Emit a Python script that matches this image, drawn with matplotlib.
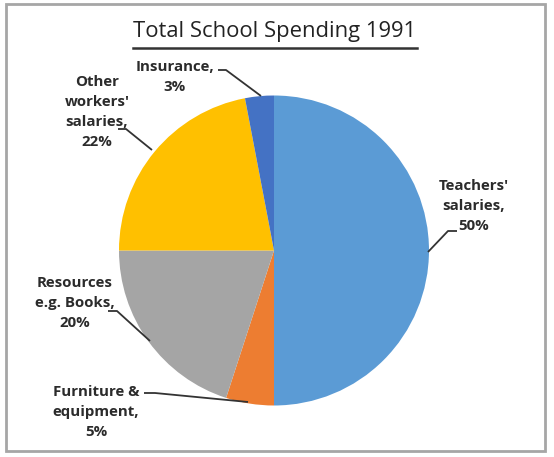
import matplotlib
matplotlib.use("Agg")
import matplotlib.pyplot as plt
from matplotlib.patches import Rectangle
from matplotlib.lines import Line2D

categories = ["Teachers' salaries", "Furniture & equipment", "Resources e.g. Books",
              "Other workers' salaries", "Insurance"]
values = [50, 5, 20, 22, 3]
label_texts = ["Teachers'\nsalaries,\n50%", "Furniture &\nequipment,\n5%",
               "Resources\ne.g. Books,\n20%", "Other\nworkers'\nsalaries,\n22%",
               "Insurance,\n3%"]
colors = ["#5B9BD5", "#ED7D31", "#A5A5A5", "#FFC000", "#4472C4"]
title = "Total School Spending 1991"

W, H = 554, 457
cx, cy, R = 274, 250.5, 155.0
fig = plt.figure(figsize=(W / 100, H / 100), dpi=100)
fig.patch.set_facecolor("white")
ax = fig.add_axes([0, 0, 1, 1])

wedges, _ = ax.pie(values, colors=colors, startangle=90, counterclock=False,
                   radius=1.0, center=(0, 0), frame=True,
                   wedgeprops=dict(linewidth=0))
ax.set_xlim(-cx / R, (W - cx) / R)
ax.set_ylim(-(H - cy) / R, cy / R)
ax.set_aspect("equal")
ax.axis("off")

def d(px, py):
    return ((px - cx) / R, (cy - py) / R)

# label layout: (text center px, line points px)
layout = [
    ((474, 206), [(428, 252), (448, 231), (457, 231)]),
    ((96, 412), [(248, 402), (155, 393), (144, 393)]),
    ((75, 303), [(150, 341), (117, 311), (108, 311)]),
    ((97, 112), [(152, 150), (126, 129), (118, 129)]),
    ((175, 77), [(261, 96), (226, 70), (218, 70)]),
]
font = ["Open Sans", "DejaVu Sans"]
for txt, ((tx, ty), pts) in zip(label_texts, layout):
    ax.text(*d(tx, ty), txt, ha="center", va="center", fontsize=10.8,
            fontweight="bold", family=font, color="#2b2b2b", linespacing=1.55)
    xs = [d(*p)[0] for p in pts]
    ys = [d(*p)[1] for p in pts]
    ax.plot(xs, ys, color="#333333", lw=1.3, solid_capstyle="butt")

t = fig.text(275 / W, 1 - 31 / H, title, ha="center", va="center", fontsize=15.8,
             family=font, color="#222222")
fig.canvas.draw()
bb = t.get_window_extent()
fig.add_artist(Line2D([bb.x0 / W, bb.x1 / W], [1 - 48 / H, 1 - 48 / H],
                      transform=fig.transFigure, color="#333333", lw=1.8))

fig.add_artist(Rectangle((6 / W, 1 - 451 / H), (545 - 6) / W, (451 - 4) / H,
                         transform=fig.transFigure, fill=False,
                         edgecolor="#A6A6A6", lw=2))

fig.savefig("out.png", dpi=100, facecolor="white")
